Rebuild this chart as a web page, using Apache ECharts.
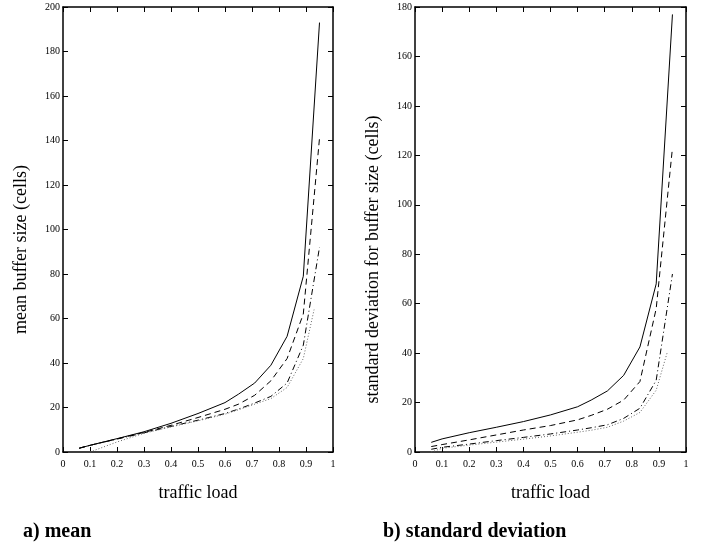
<!DOCTYPE html>
<html>
<head>
<meta charset="utf-8">
<script src="https://cdn.jsdelivr.net/npm/echarts@6/dist/echarts.min.js"></script>
<style>
  html, body { margin: 0; padding: 0; background: #fff; }
  #chart { width: 707px; height: 550px; }
</style>
</head>
<body>
<div id="chart"></div>
<script>
// traffic load points where the curves were sampled
const load = [0.06, 0.1, 0.2, 0.3, 0.4, 0.5, 0.6, 0.65, 0.71, 0.77, 0.83, 0.89, 0.95];
const loadDotMean = [0.1, 0.2, 0.3, 0.4, 0.5, 0.6, 0.65, 0.71, 0.77, 0.83, 0.89, 0.93];
const loadDotStd = [0.06, 0.1, 0.2, 0.3, 0.4, 0.5, 0.6, 0.65, 0.71, 0.77, 0.83, 0.89, 0.93];

// a) mean buffer size (cells)
const meanSolid   = [1.7, 3, 6, 9.1, 12.9, 17.3, 22.2, 26, 31, 39, 52, 79, 193];
const meanDashed  = [1.7, 3, 5.9, 8.8, 12, 15.5, 19.2, 21.5, 25.5, 32, 42, 62, 141];
const meanDashDot = [1.7, 3, 5.8, 8.6, 11.5, 14.3, 17.3, 19.3, 22, 25, 31, 48, 92];
const meanDotted  = [0, 4.5, 8.4, 11.3, 14, 17, 19, 21.5, 24, 29, 42, 64];

// b) standard deviation for buffer size (cells)
const stdSolid   = [3.9, 5.3, 7.8, 10, 12.3, 15, 18.3, 21, 24.7, 31, 42.5, 68, 177];
const stdDashed  = [2.2, 3, 4.9, 6.9, 8.9, 10.7, 13, 14.8, 17.3, 21, 28.5, 58, 123];
const stdDashDot = [1.1, 1.9, 3.2, 4.6, 5.9, 7.3, 8.9, 9.8, 11, 13.6, 17.7, 29, 72];
const stdDotted  = [0, 1.5, 2.8, 4, 5.2, 6.5, 8, 8.8, 10, 12.5, 16, 25, 40];

const font = 'Liberation Serif';

function pairs (xs, ys) {
  return ys.map((v, i) => [xs[i], v]);
}

// bottom axis with labels + top axis as the frame, ticks pointing in
function xAxes (grid, name) {
  const base = {
    type: 'value', gridIndex: grid, min: 0, max: 1, interval: 0.1,
    axisLine: { show: true, onZero: false, lineStyle: { color: '#000', width: 1.5 } },
    axisTick: { show: true, inside: true, length: 5, lineStyle: { color: '#000' } },
    splitLine: { show: false }
  };
  return [
    Object.assign({}, base, {
      position: 'bottom',
      name: name, nameLocation: 'middle', nameGap: 32,
      nameTextStyle: { fontFamily: font, fontSize: 18, color: '#000' },
      axisLabel: { fontFamily: font, fontSize: 10, color: '#000', margin: 7 }
    }),
    Object.assign({}, base, { position: 'top', axisLabel: { show: false } })
  ];
}

function yAxes (grid, max, name, shift) {
  const base = {
    type: 'value', gridIndex: grid, min: 0, max: max, interval: 20,
    axisLine: { show: true, onZero: false, lineStyle: { color: '#000', width: 1.5 } },
    axisTick: { show: true, inside: true, length: 5, lineStyle: { color: '#000' } },
    splitLine: { show: false }
  };
  return [
    Object.assign({}, base, {
      position: 'left',
      name: name, nameLocation: 'middle', nameGap: 33,
      nameTextStyle: { fontFamily: font, fontSize: 18, color: '#000', padding: [0, shift, 0, 0] },
      axisLabel: { fontFamily: font, fontSize: 10, color: '#000', margin: 3 }
    }),
    Object.assign({}, base, { position: 'right', axisLabel: { show: false } })
  ];
}

function line (xi, yi, xs, ys, type, color) {
  return {
    type: 'line', xAxisIndex: xi, yAxisIndex: yi,
    data: pairs(xs, ys),
    symbol: 'none',
    lineStyle: { color: color || '#000', width: 1, type: type }
  };
}

const chart = echarts.init(document.getElementById('chart'));

chart.setOption({
  backgroundColor: '#fff',
  animation: false,
  title: [
    { text: 'a) mean', left: 23, top: 522, padding: 0,
      textStyle: { fontFamily: font, fontSize: 20, fontWeight: 'bold', color: '#000' } },
    { text: 'b) standard deviation', left: 383, top: 522, padding: 0,
      textStyle: { fontFamily: font, fontSize: 20, fontWeight: 'bold', color: '#000' } }
  ],
  grid: [
    { left: 63, top: 7, width: 270, height: 445 },
    { left: 415, top: 7, width: 271, height: 445 }
  ],
  xAxis: [].concat(xAxes(0, 'traffic load'), xAxes(1, 'traffic load')),
  yAxis: [].concat(
    yAxes(0, 200, 'mean buffer size (cells)', 40),
    yAxes(1, 180, 'standard deviation for buffer size (cells)', 60)
  ),
  series: [
    line(0, 0, load, meanSolid, 'solid'),
    line(0, 0, load, meanDashed, [6, 4]),
    line(0, 0, load, meanDashDot, [6, 3, 1, 3]),
    line(0, 0, loadDotMean, meanDotted, [1, 2], '#666'),

    line(2, 2, load, stdSolid, 'solid'),
    line(2, 2, load, stdDashed, [6, 4]),
    line(2, 2, load, stdDashDot, [6, 3, 1, 3]),
    line(2, 2, loadDotStd, stdDotted, [1, 2], '#666')
  ]
});
</script>
</body>
</html>
